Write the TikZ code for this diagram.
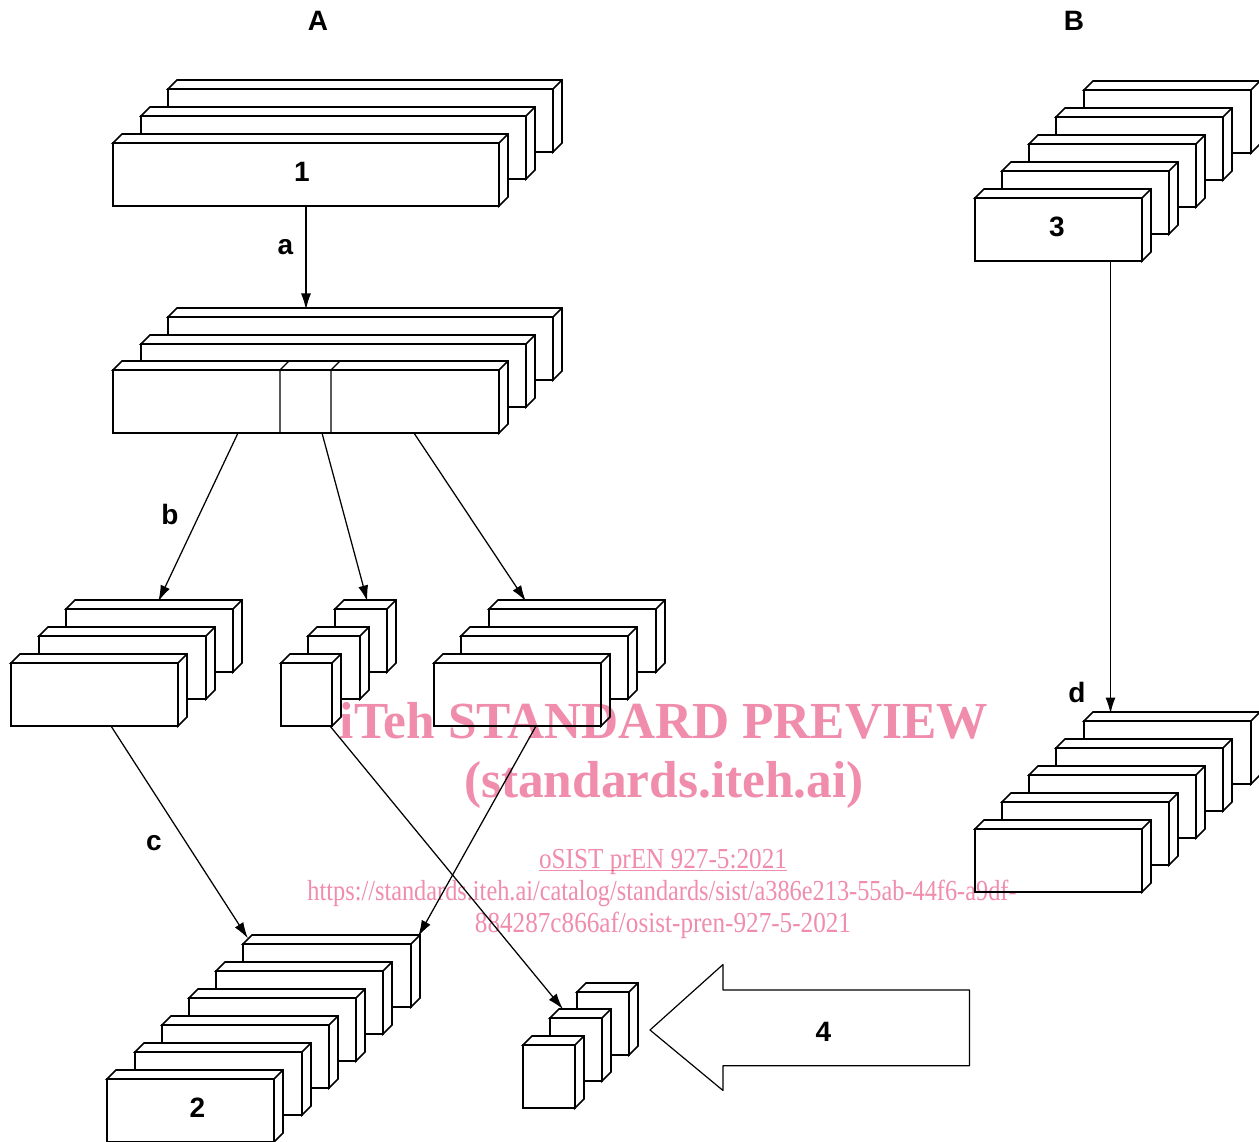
\documentclass[tikz,border=0pt]{standalone}
\usepackage{fontspec}
\usepackage{graphicx}
\setmainfont{Liberation Sans}
\newfontfamily\wmfont{Liberation Serif}
\usetikzlibrary{arrows.meta,calc}
\definecolor{wmpink}{HTML}{F08CAC}
\tikzset{
  front/.style={draw,fill=white,line width=1.7pt,inner sep=0pt,outer sep=0pt,anchor=north west},
  side/.style={draw,fill=white,line width=1.7pt,line join=miter},
  conn/.style={line width=1.25pt,-{Latex[length=16pt,width=10pt]},shorten >=-1.5pt},
  divider/.style={line width=1.1pt},
  lab/.style={font=\fontsize{28}{30}\selectfont\bfseries,inner sep=0pt},
  bigarrow/.style={draw,fill=white,line width=1.2pt,line join=round},
  wm/.style={text=wmpink,inner sep=0pt,anchor=base,blend mode=multiply},
  wmbig/.style={wm,font=\wmfont\fontsize{52}{56}\selectfont\bfseries},
  wmsmall/.style={wm,font=\wmfont\fontsize{29}{31}\selectfont},
}
\newcommand{\bx}[5]{%
  \path[side] (#2,#3) -- ++(9,-9) -- ++(#4,0) -- ++(0,#5) -- ++(-9,9) -- ++(0,-#5) -- cycle;
  \node[front,minimum width=#4pt,minimum height=#5pt] (#1) at (#2,#3) {};
  \draw[side] (#1.north east) -- ++(9,-9);
}
\begin{document}
\begin{tikzpicture}[x=1pt,y=-1pt]
\useasboundingbox (0,0) rectangle (1259,1142);
\fill[white] (0,0) rectangle (1259,1142);

% top stack
\bx{ta}{168}{89}{385}{63}
\bx{tb}{141}{116}{385}{63}
\bx{tc}{113}{143}{386}{63}
% second stack
\bx{ma}{168}{317}{385}{63}
\bx{mb}{141}{344}{385}{63}
\bx{mc}{113}{370}{386}{63}
\draw[divider] ([xshift=167]mc.south west) -- ([xshift=167]mc.north west) -- ++(9,-9);
\draw[divider] ([xshift=218]mc.south west) -- ([xshift=218]mc.north west) -- ++(9,-9);
% left stack
\bx{la}{66}{609}{167}{63}
\bx{lb}{39}{636}{167}{63}
\bx{lc}{11}{663}{167}{63}
% small stack
\bx{na}{335}{609}{52}{63}
\bx{nb}{308}{636}{52}{63}
\bx{nc}{281}{663}{51}{63}
% right stack
\bx{ra}{489}{609}{167}{63}
\bx{rb}{461}{636}{167}{63}
\bx{rc}{434}{663}{167}{63}
% bottom stack, six layers
\bx{ba}{243}{944}{168}{63}
\bx{bb}{216}{971}{167}{63}
\bx{bc}{189}{998}{167}{63}
\bx{bd}{162}{1025}{167}{63}
\bx{be}{135}{1052}{167}{63}
\bx{bf}{107}{1079}{167}{63}
% small bottom stack
\bx{sa}{577}{992}{52}{63}
\bx{sb}{550}{1018}{52}{63}
\bx{sc}{523}{1045}{52}{63}
% B upper stack
\bx{ua}{1084}{90}{167}{63}
\bx{ub}{1056}{117}{167}{63}
\bx{uc}{1029}{144}{167}{63}
\bx{ud}{1002}{171}{167}{63}
\bx{ue}{975}{198}{167}{63}
% B lower stack
\bx{va}{1084}{721}{167}{63}
\bx{vb}{1056}{748}{167}{63}
\bx{vc}{1029}{775}{167}{63}
\bx{vd}{1002}{802}{167}{63}
\bx{ve}{975}{829}{167}{63}

% big arrow
\path[bigarrow] (650,1030) -- (723,964.5) -- (723,990) -- (969.5,990) -- (969.5,1065.7) -- (723,1065.7) -- (723,1090.5) -- cycle;

% connectors
\draw[conn] (tc.south) -- ([xshift=138,yshift=9]ma.north west);
\draw[conn] ([xshift=125]mc.south west) -- ([xshift=93,yshift=9]la.north west);
\draw[conn] ([xshift=209]mc.south west) -- ([xshift=32,yshift=9]na.north west);
\draw[conn] ([xshift=301]mc.south west) -- ([xshift=36,yshift=9]ra.north west);
\draw[conn] ([xshift=100]lc.south west) -- ([xshift=4,yshift=7]ba.north west);
\draw[conn] ([xshift=49]nc.south west) -- ([xshift=12,yshift=10]sb.north west);
\draw[conn] ([xshift=102]rc.south west) -- ([xshift=176,yshift=9]ba.north west);
\draw[conn] ([xshift=135.5]ue.south west) -- ([xshift=26.5,yshift=9]va.north west);

% labels
\node[lab] (lA) at (318,21) {A};
\node[lab] (lB) at (1074,21) {B};
\node[lab] (l1) at (302,172) {1};
\node[lab] (l2) at (197.5,1107.5) {2};
\node[lab] (l3) at (1057,227) {3};
\node[lab] (l4) at (823.5,1032) {4};
\node[lab] (xa) at (285.5,247) {a};
\node[lab] (xb) at (170,514) {b};
\node[lab] (xc) at (154,843) {c};
\node[lab] (xd) at (1077,692) {d};

% watermark
\node[wmbig] (w1) at (664,738) {\resizebox{648pt}{\height}{iTeh STANDARD PREVIEW}};
\node[wmbig] (w2) at (664,797) {\resizebox{400pt}{\height}{(standards.iteh.ai)}};
\node[wmsmall] (w3) at (663,868) {\resizebox{248pt}{\height}{oSIST prEN 927-5:2021}};
\draw[wmpink,line width=1pt,blend mode=multiply] ([yshift=-2.7]w3.base west) -- ([yshift=-2.7]w3.base east);
\node[wmsmall] (w4) at (662,900) {\resizebox{709pt}{\height}{https://standards.iteh.ai/catalog/standards/sist/a386e213-55ab-44f6-a9df-}};
\node[wmsmall] (w5) at (663,932) {\resizebox{376pt}{\height}{884287c866af/osist-pren-927-5-2021}};
\end{tikzpicture}
\end{document}
